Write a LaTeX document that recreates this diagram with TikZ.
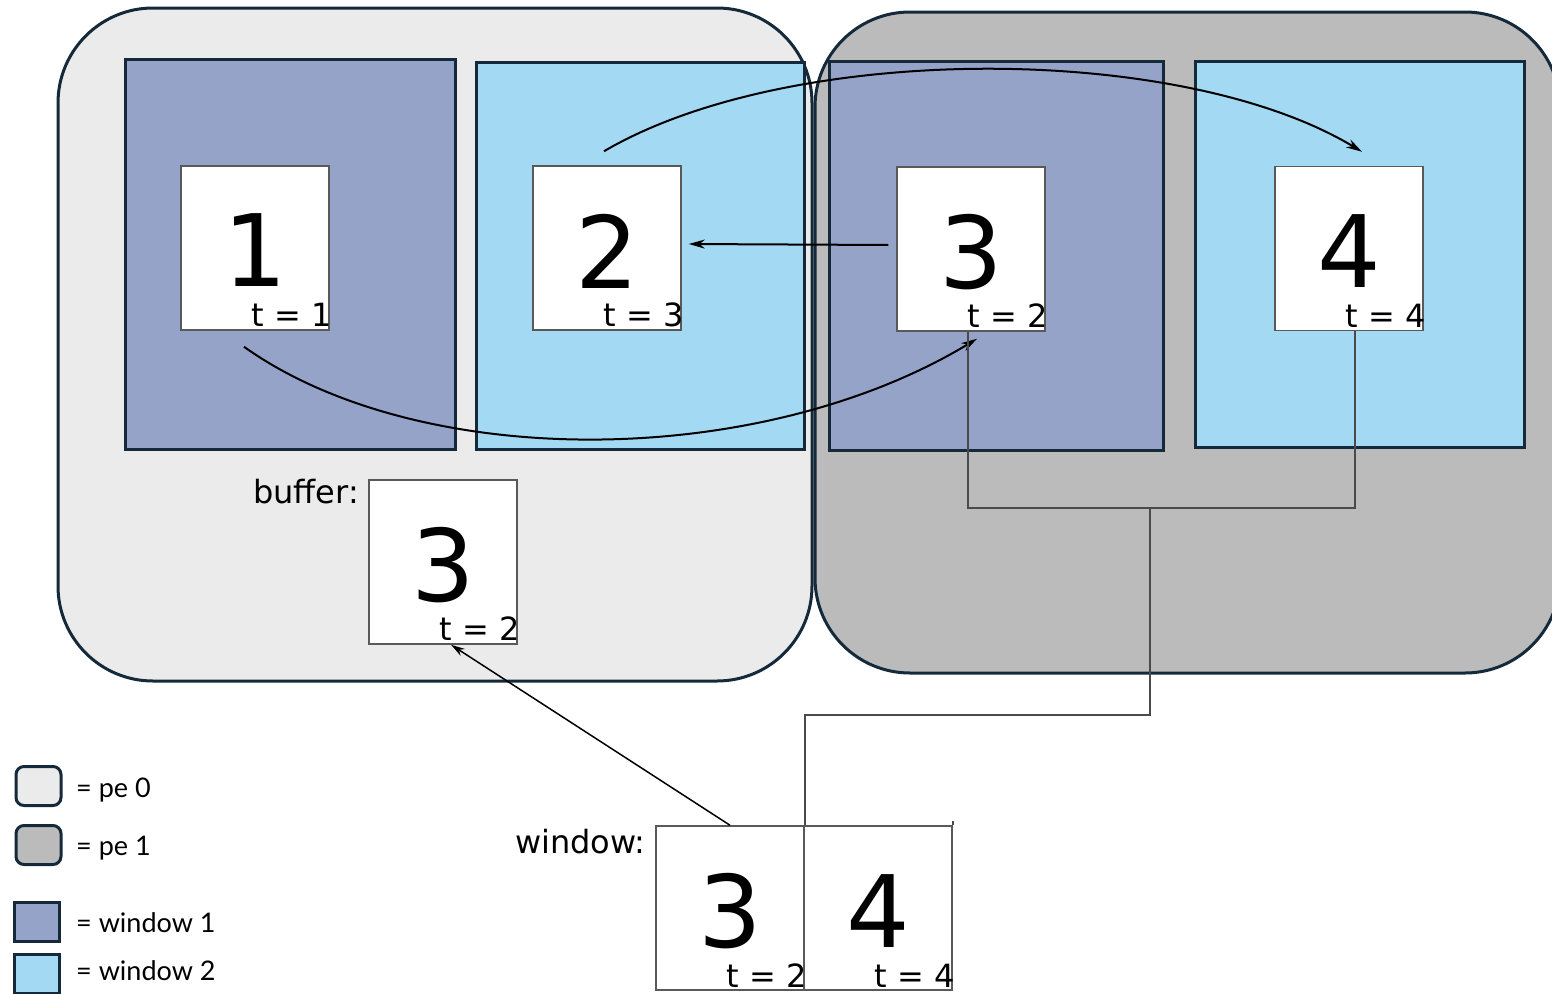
\documentclass[tikz,border=0pt]{standalone}
\usepackage{fontspec}
\setmainfont{DejaVu Sans}
\newfontfamily\legendfont{Lato}
\usetikzlibrary{arrows.meta,calc}
\definecolor{peZero}{HTML}{EBEBEB}
\definecolor{peOne}{HTML}{BBBBBB}
\definecolor{winOne}{HTML}{96A3C9}
\definecolor{winTwo}{HTML}{A4D9F3}
\definecolor{edge}{HTML}{14293A}
\definecolor{wiregray}{HTML}{4A4A4A}
\begin{document}
\begin{tikzpicture}[x=1pt,y=-1pt,
  pebox/.style={draw=edge, line width=3pt, rounded corners=95pt, inner sep=0pt},
  winbox/.style={draw=edge, line width=3pt, inner sep=0pt},
  databox/.style={draw=black!65, line width=1.5pt, fill=white,
    minimum width=148pt, minimum height=164pt, inner sep=0pt},
  digit/.style={font=\fontsize{100}{100}\selectfont, inner sep=0pt},
  tlabel/.style={font=\fontsize{32}{32}\selectfont, inner sep=0pt, anchor=base east},
  caption/.style={font=\fontsize{32}{32}\selectfont, inner sep=0pt, anchor=base west},
  legbox/.style={draw=edge, line width=3pt, minimum width=45pt, minimum height=39pt, inner sep=0pt},
  legtext/.style={font=\legendfont\fontsize{27}{27}\selectfont, inner sep=0pt, anchor=base west},
  link/.style={line width=2pt, -{Stealth[length=16pt,width=9pt]}},
  wire/.style={draw=wiregray, line width=1.5pt},
]
\useasboundingbox (0,0) rectangle (1552,993);
\clip (0,0) rectangle (1552,993);

% processing elements
\node[pebox, fill=peZero, minimum width=754pt, minimum height=673pt] (pe0) at (435,344.5) {};
\node[pebox, fill=peOne, minimum width=745pt, minimum height=661pt] (pe1) at (1187.5,342.5) {};

% windows
\node[winbox, fill=winOne, minimum width=330pt, minimum height=390pt] (w1a) at (290,254) {};
\node[winbox, fill=winTwo, minimum width=328pt, minimum height=387pt] (w2a) at (640,255.5) {};
\node[winbox, fill=winOne, minimum width=334pt, minimum height=389pt] (w1b) at (996,255.5) {};
\node[winbox, fill=winTwo, minimum width=329pt, minimum height=386pt] (w2b) at (1359.5,254) {};

% data items
\node[databox] (d1) at (255,248) {};
\node[databox] (d2) at (607,248) {};
\node[databox] (d3) at (971,249) {};
\node[databox] (d4) at (1349,248.5) {};
\node[databox] (buf) at (443,562) {};
\node[databox] (win3) at (730,908) {};
\node[databox] (win4) at (878,908) {};

\node[digit] (n1) at ([yshift=-2pt]d1.center) {1};
\node[digit] (n2) at ([yshift=-3pt]d2.center) {2};
\node[digit] (n3) at ([yshift=-3pt]d3.center) {3};
\node[digit] (n4) at ([yshift=-3pt]d4.center) {4};
\node[digit] (nb) at ([yshift=-3pt]buf.center) {3};
\node[digit] (nw3) at ([yshift=-3pt]win3.center) {3};
\node[digit] (nw4) at ([yshift=-3pt]win4.center) {4};

\node[tlabel] (t1) at ([xshift=2pt,yshift=4pt]d1.south east) {t = 1};
\node[tlabel] (t2) at ([xshift=2pt,yshift=4pt]d2.south east) {t = 3};
\node[tlabel] (t3) at ([xshift=2pt,yshift=4pt]d3.south east) {t = 2};
\node[tlabel] (t4) at ([xshift=2pt,yshift=4pt]d4.south east) {t = 4};
\node[tlabel] (tb) at ([xshift=2pt,yshift=4pt]buf.south east) {t = 2};
\node[tlabel] (tw3) at ([xshift=2pt,yshift=3pt]win3.south east) {t = 2};
\node[tlabel] (tw4) at ([xshift=2pt,yshift=3pt]win4.south east) {t = 4};

\node[caption] (bufcap) at (253,503) {buffer:};
\node[caption] (wincap) at (515,853) {window:};

% exchanges between the items
\draw[link] ([xshift=-3pt,yshift=14pt]d2.north) .. controls (790,42) and (1180,42) .. ([xshift=13pt,yshift=14pt]d4.north);
\draw[link] ([xshift=-8pt,yshift=4pt]d3.west) -- ([xshift=7pt,yshift=4pt]d2.east);
\draw[link] ([xshift=-11pt,yshift=-16pt]d1.south) .. controls (420,472) and (760,470) .. ([xshift=6pt,yshift=-7pt]d3.south);
\draw[line width=1.5pt, -{Stealth[length=14pt,width=8pt]}] (win3.north) -- ([xshift=8pt]buf.south);

% gathering into the window
\coordinate (j) at (1150,508);
\coordinate (bend) at (1150,715);
\draw[wire] ([xshift=-3pt]d3.south) |- (j) -| ([xshift=6pt]d4.south);
\draw[wire] (j) -- (bend) -| (win3.north east);
\draw[wire] (win4.north east) -- ++(0,-4);

% legend
\node[legbox, fill=peZero, rounded corners=8pt] (lg0) at (38.5,786) {};
\node[legbox, fill=peOne, rounded corners=8pt] (lg1) at (38.5,845) {};
\node[legbox, fill=winOne] (lg2) at (37,922) {};
\node[legbox, fill=winTwo] (lg3) at (37,974) {};
\node[legtext] (lt0) at (76,797) {= pe 0};
\node[legtext] (lt1) at (76,855) {= pe 1};
\node[legtext] (lt2) at (76,932) {= window 1};
\node[legtext] (lt3) at (76,980) {= window 2};
\end{tikzpicture}
\end{document}
